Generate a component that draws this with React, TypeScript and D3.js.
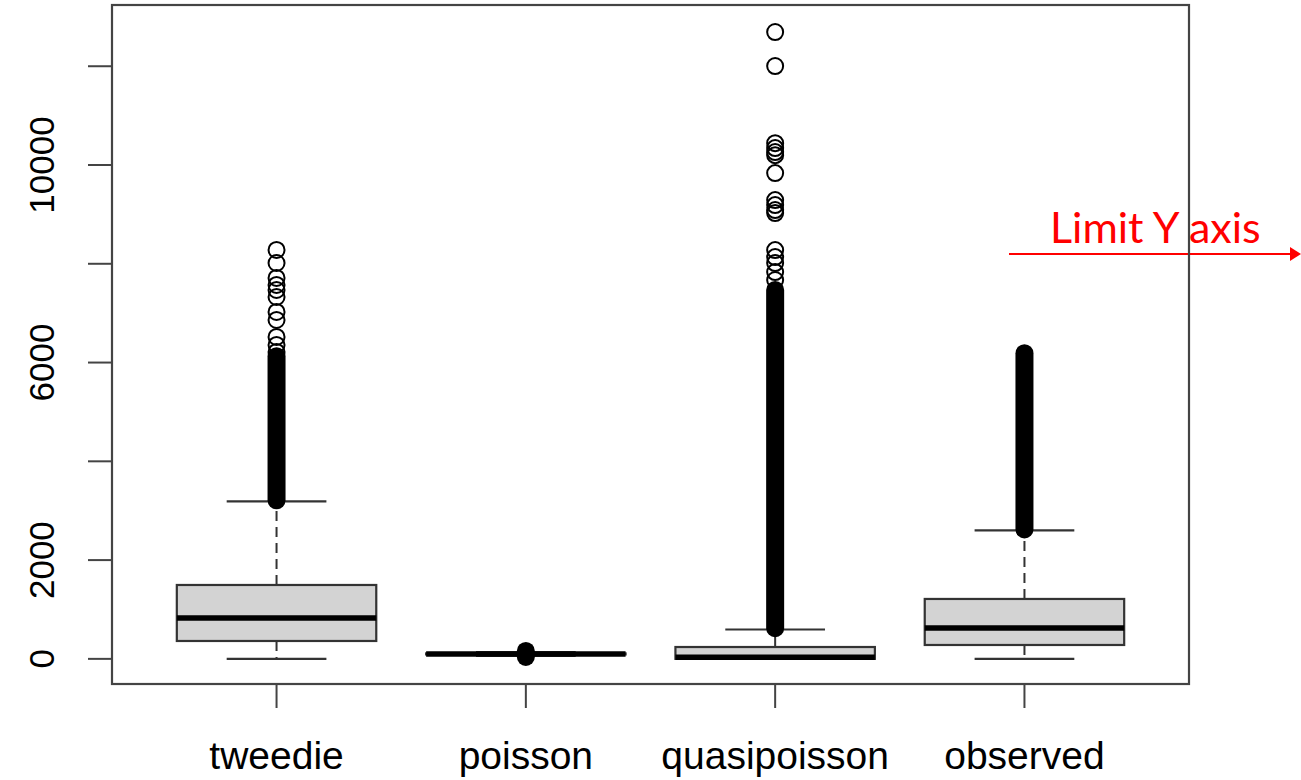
import React, { useEffect, useRef } from 'react';
import * as d3 from 'd3';

// boxplot summary per model
const categories = ['tweedie', 'poisson', 'quasipoisson', 'observed'];
const lowerWhisker = [0, 62, 0, 0];
const q1 = [362, 90, 0, 281];
const median = [828, 100, 35, 626];
const q3 = [1496, 110, 240, 1213];
const upperWhisker = [3190, 138, 595, 2600];

// stretches where the outlier circles overlap into a solid column
const outlierRuns = [
  [[3210, 6130]],
  [[40, 60], [140, 160]],
  [[620, 7470]],
  [[2620, 6190]],
];

// single outliers that stand apart
const outliers = [
  [6214, 6356, 6518, 6862, 7024, 7328, 7470, 7571, 7713, 8016, 8280],
  [],
  [7671, 7832, 8014, 8135, 8277, 9026, 9087, 9188, 9289, 9836, 10200, 10261, 10342, 10443, 12004, 12692],
  [],
];

const yTicks = [0, 2000, 4000, 6000, 8000, 10000, 12000];
const yTickLabels = ['0', '2000', '', '6000', '', '10000', ''];

const W = 1301;
const H = 780;

export default function App() {
  const ref = useRef<SVGSVGElement>(null);

  useEffect(() => {
    const svg = d3.select(ref.current);
    svg.selectAll('*').remove();

    const plot = { left: 112, right: 1189, top: 5, bottom: 684 };

    // R style ranges: 0.5..n+0.5 and data range, each padded 4%
    const x = d3.scaleLinear()
      .domain([0.34, categories.length + 0.66])
      .range([plot.left, plot.right]);
    const y = d3.scaleLinear()
      .domain([-509, 13240])
      .range([plot.bottom, plot.top]);

    const boxW = x(1.8) - x(1);
    const capW = boxW / 2;
    const r = 8;
    const ink = '#333';

    // annotation sits under the frame
    const note = svg.append('g');
    note.append('text')
      .attr('x', 1050)
      .attr('y', 243)
      .attr('font-family', 'Lato, "Noto Sans", sans-serif')
      .attr('font-size', 43)
      .attr('fill', '#ff0000')
      .text('Limit Y axis');
    note.append('line')
      .attr('x1', 1009).attr('x2', 1292)
      .attr('y1', 254).attr('y2', 254)
      .attr('stroke', '#ff0000')
      .attr('stroke-width', 2);
    note.append('path')
      .attr('d', 'M1290,247 L1301,254 L1290,261 Z')
      .attr('fill', '#ff0000');

    categories.forEach((cat, i) => {
      const cx = x(i + 1);
      const g = svg.append('g');

      // whiskers
      g.append('line')
        .attr('x1', cx).attr('x2', cx)
        .attr('y1', y(q3[i])).attr('y2', y(upperWhisker[i]))
        .attr('stroke', ink).attr('stroke-width', 2)
        .attr('stroke-dasharray', '10,6');
      g.append('line')
        .attr('x1', cx).attr('x2', cx)
        .attr('y1', y(q1[i])).attr('y2', y(lowerWhisker[i]))
        .attr('stroke', ink).attr('stroke-width', 2)
        .attr('stroke-dasharray', '10,6');
      [upperWhisker[i], lowerWhisker[i]].forEach((v) => {
        g.append('line')
          .attr('x1', cx - capW / 2).attr('x2', cx + capW / 2)
          .attr('y1', y(v)).attr('y2', y(v))
          .attr('stroke', ink).attr('stroke-width', 2.2);
      });

      // box
      g.append('rect')
        .attr('x', cx - boxW / 2)
        .attr('y', y(q3[i]))
        .attr('width', boxW)
        .attr('height', Math.max(0, y(q1[i]) - y(q3[i])))
        .attr('fill', '#d3d3d3')
        .attr('stroke', ink)
        .attr('stroke-width', 2.2);
      g.append('line')
        .attr('x1', cx - boxW / 2).attr('x2', cx + boxW / 2)
        .attr('y1', y(median[i])).attr('y2', y(median[i]))
        .attr('stroke', '#000')
        .attr('stroke-width', 5.5);

      // outliers
      outlierRuns[i].forEach(([a, b]) => {
        g.append('line')
          .attr('x1', cx).attr('x2', cx)
          .attr('y1', y(a)).attr('y2', y(b))
          .attr('stroke', '#000')
          .attr('stroke-width', 2 * r + 2)
          .attr('stroke-linecap', 'round');
      });
      g.selectAll('circle.out')
        .data(outliers[i])
        .enter()
        .append('circle')
          .attr('cx', cx)
          .attr('cy', (v) => y(v))
          .attr('r', r)
          .attr('fill', 'none')
          .attr('stroke', '#000')
          .attr('stroke-width', 2);
    });

    // frame
    svg.append('rect')
      .attr('x', plot.left).attr('y', plot.top)
      .attr('width', plot.right - plot.left)
      .attr('height', plot.bottom - plot.top)
      .attr('fill', 'none')
      .attr('stroke', '#444')
      .attr('stroke-width', 2.2);

    // y axis
    const yAxis = svg.append('g');
    yTicks.forEach((t, i) => {
      yAxis.append('line')
        .attr('x1', plot.left - 24).attr('x2', plot.left)
        .attr('y1', y(t)).attr('y2', y(t))
        .attr('stroke', '#444').attr('stroke-width', 2);
      if (yTickLabels[i]) {
        yAxis.append('text')
          .attr('transform', `translate(54, ${y(t)}) rotate(-90)`)
          .attr('text-anchor', 'middle')
          .attr('font-family', '"Liberation Sans", Arial, sans-serif')
          .attr('font-size', 35)
          .attr('fill', '#000')
          .text(yTickLabels[i]);
      }
    });

    // x axis
    const xAxis = svg.append('g');
    categories.forEach((cat, i) => {
      xAxis.append('line')
        .attr('x1', x(i + 1)).attr('x2', x(i + 1))
        .attr('y1', plot.bottom).attr('y2', plot.bottom + 24)
        .attr('stroke', '#444').attr('stroke-width', 2);
      xAxis.append('text')
        .attr('x', x(i + 1))
        .attr('y', 769)
        .attr('text-anchor', 'middle')
        .attr('font-family', '"Liberation Sans", Arial, sans-serif')
        .attr('font-size', 39)
        .attr('fill', '#000')
        .text(cat);
    });
  }, []);

  return (
    <svg
      ref={ref}
      width={W}
      height={H}
      style={{ position: 'absolute', left: 0, top: 0, background: '#fff' }}
    />
  );
}
